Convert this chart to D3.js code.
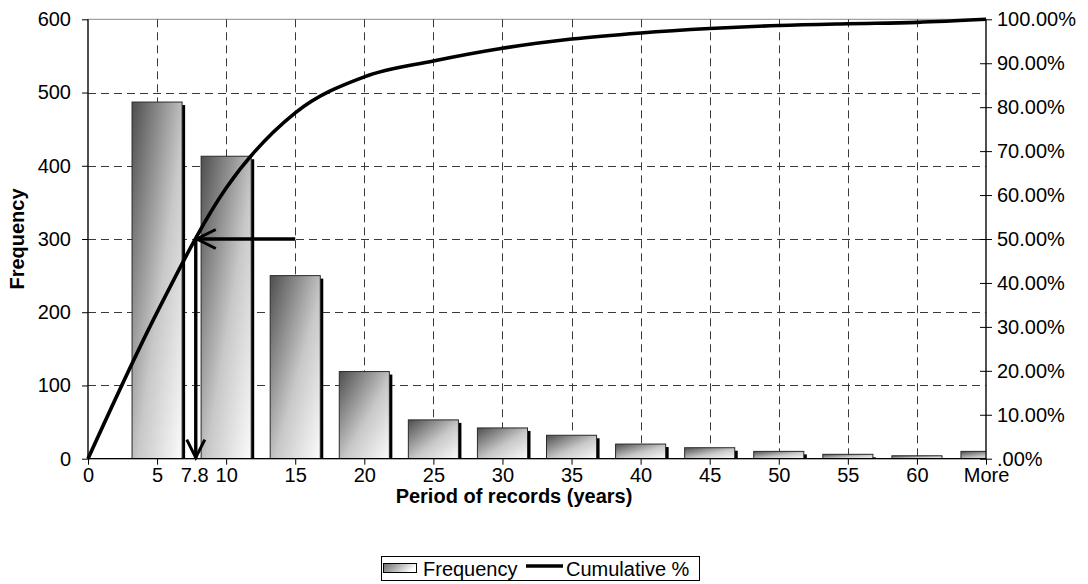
<!DOCTYPE html>
<html>
<head>
<meta charset="utf-8">
<script src="https://cdn.jsdelivr.net/npm/d3@7"></script>
<style>
  html, body { margin: 0; padding: 0; background: #fff; }
  svg { display: block; font-family: "Liberation Sans", Arial, sans-serif; }
</style>
</head>
<body>
<svg id="chart" width="1088" height="584"></svg>
<script>
// Histogram bins (upper edges) and the tick labels along the x axis
const tickLabels = ["0", "5", "10", "15", "20", "25", "30", "35", "40", "45", "50", "55", "60", "More"];
const binLabels = ["5", "10", "15", "20", "25", "30", "35", "40", "45", "50", "55", "60", "More"];
// Number of records in each bin
const frequency = [487, 413, 250, 119, 53, 42, 32, 20, 15, 10, 6, 4, 10];
// Cumulative percentage at each tick (starting from 0)
const cumulativePct = [0, 33.3, 61.6, 78.7, 86.9, 90.5, 93.4, 95.5, 96.9, 97.9, 98.6, 99.0, 99.3, 100];
// Axis ticks
const freqTicks = [0, 100, 200, 300, 400, 500, 600];
const pctTicks = [0, 10, 20, 30, 40, 50, 60, 70, 80, 90, 100];
// Median marker: 50% of records have a period of 7.8 years or less
const medianPct = 50;
const medianYears = 7.8;
const arrowFromYears = 15;

const svg = d3.select("#chart");
const W = 1088, H = 584;
const x0 = 88, x1 = 986, yTop = 19.3, yBot = 458.7;
const fontSize = 20;

const x = d3.scalePoint().domain(tickLabels).range([x0, x1]);
const xv = d3.scaleLinear().domain([0, 65]).range([x0, x1]);   // years on the same axis
const y = d3.scaleLinear().domain([0, 600]).range([yBot, yTop]);
const yPct = d3.scaleLinear().domain([0, 100]).range([yBot, yTop]);
const step = x.step();
const barW = step * 0.725;

const defs = svg.append("defs");
const grad = defs.append("linearGradient").attr("id", "barFill")
  .attr("x1", 0).attr("y1", 0).attr("x2", 1).attr("y2", 1);
grad.append("stop").attr("offset", "0%").attr("stop-color", "#4e4e4e");
grad.append("stop").attr("offset", "55%").attr("stop-color", "#c8c8c8");
grad.append("stop").attr("offset", "100%").attr("stop-color", "#fbfbfb");
defs.append("clipPath").attr("id", "plotClip")
  .append("rect").attr("x", x0).attr("y", yTop).attr("width", x1 - x0).attr("height", yBot - yTop);

svg.append("rect").attr("width", W).attr("height", H).attr("fill", "#fff");

// Plot area frame
svg.append("rect").attr("x", x0).attr("y", yTop).attr("width", x1 - x0).attr("height", yBot - yTop)
  .attr("fill", "none").attr("stroke", "#8c8c8c").attr("stroke-width", 1);

// Dashed grid
const grid = svg.append("g").attr("stroke", "#3a3a3a").attr("stroke-width", 1).attr("stroke-dasharray", "8,5");
grid.selectAll("line.h").data(freqTicks.filter(d => d > 0 && d < 600)).join("line")
  .attr("x1", x0).attr("x2", x1).attr("y1", d => Math.round(y(d)) + 0.5).attr("y2", d => Math.round(y(d)) + 0.5);
grid.selectAll("line.v").data(tickLabels.slice(1, -1)).join("line")
  .attr("y1", yTop).attr("y2", yBot).attr("x1", d => Math.round(x(d)) + 0.5).attr("x2", d => Math.round(x(d)) + 0.5);

// Bars with drop shadow
const bars = svg.append("g").attr("clip-path", "url(#plotClip)");
const barData = binLabels.map((b, i) => ({ bin: b, value: frequency[i] }));
bars.selectAll("rect.shadow").data(barData).join("rect").attr("class", "shadow")
  .attr("x", d => x(d.bin) - barW / 2 + 3).attr("y", d => y(d.value) + 3)
  .attr("width", barW).attr("height", d => yBot - y(d.value))
  .attr("fill", "#000");
bars.selectAll("rect.bar").data(barData).join("rect").attr("class", "bar")
  .attr("x", d => x(d.bin) - barW / 2).attr("y", d => y(d.value))
  .attr("width", barW).attr("height", d => yBot - y(d.value))
  .attr("fill", "url(#barFill)").attr("stroke", "#2a2a2a").attr("stroke-width", 1);

// Axes
const leftAxis = svg.append("g").attr("transform", `translate(${x0},0)`)
  .call(d3.axisLeft(y).tickValues(freqTicks).tickSize(6).tickPadding(11).tickFormat(d3.format("d")));
const rightAxis = svg.append("g").attr("transform", `translate(${x1},0)`)
  .call(d3.axisRight(yPct).tickValues(pctTicks).tickSize(6).tickPadding(5)
    .tickFormat(d => d === 0 ? ".00%" : d.toFixed(2) + "%"));
rightAxis.selectAll(".tick line").attr("x1", -6);
const bottomAxis = svg.append("g").attr("transform", `translate(0,${yBot})`)
  .call(d3.axisBottom(x).tickSize(6).tickPadding(3));
[leftAxis, rightAxis, bottomAxis].forEach(g => {
  g.selectAll(".domain").attr("stroke", "#000").attr("stroke-width", 1.2);
  g.selectAll(".tick line").attr("stroke", "#000");
  g.selectAll("text").attr("font-size", fontSize).attr("fill", "#000")
    .attr("font-family", "Liberation Sans, Arial, sans-serif");
});
leftAxis.select(".domain").attr("d", `M0,${yTop}V${yBot}`);
rightAxis.select(".domain").attr("d", `M0,${yTop}V${yBot}`);
bottomAxis.select(".domain").attr("d", `M${x0},0H${x1}`);

// Median value label on the x axis
svg.append("text").attr("x", xv(medianYears) - 1).attr("y", yBot + 9).attr("dy", "0.71em")
  .attr("text-anchor", "middle").attr("font-size", fontSize).text(String(medianYears));

// Cumulative % curve
const line = d3.line().x((d, i) => x(tickLabels[i])).y(d => yPct(d)).curve(d3.curveCardinal);
svg.append("path").datum(cumulativePct).attr("d", line)
  .attr("fill", "none").attr("stroke", "#000").attr("stroke-width", 3.6);

// Arrows marking the median
const ax = xv(medianYears), ay = yPct(medianPct), bx = xv(arrowFromYears);
const arrows = svg.append("g").attr("stroke", "#000").attr("fill", "none").attr("stroke-width", 3.4);
arrows.append("path").attr("d", `M${bx},${ay}H${ax + 1}`);
arrows.append("path").attr("d", `M${ax + 20},${ay - 9.5}L${ax + 1},${ay}L${ax + 20},${ay + 9.5}`).attr("stroke-width", 3);
arrows.append("path").attr("d", `M${ax},${ay}V${yBot - 1}`);
arrows.append("path").attr("d", `M${ax - 9},${yBot - 19}L${ax},${yBot - 1}L${ax + 9},${yBot - 19}`).attr("stroke-width", 3);

// Axis titles
svg.append("text").attr("x", 514).attr("y", 503).attr("text-anchor", "middle")
  .attr("font-size", fontSize).attr("font-weight", "bold").text("Period of records (years)");
svg.append("text").attr("transform", `translate(24,${(yTop + yBot) / 2}) rotate(-90)`)
  .attr("text-anchor", "middle").attr("font-size", fontSize).attr("font-weight", "bold").text("Frequency");

// Legend
const lg = svg.append("g").attr("transform", "translate(381,556)");
lg.append("rect").attr("x", 0.5).attr("y", 0.5).attr("width", 318).attr("height", 24)
  .attr("fill", "#fff").attr("stroke", "#000").attr("stroke-width", 1);
const lgGrad = defs.append("linearGradient").attr("id", "legendFill")
  .attr("x1", 0).attr("y1", 0).attr("x2", 1).attr("y2", 0.3);
lgGrad.append("stop").attr("offset", "0%").attr("stop-color", "#6a6a6a");
lgGrad.append("stop").attr("offset", "100%").attr("stop-color", "#ffffff");
lg.append("rect").attr("x", 2.5).attr("y", 7.5).attr("width", 33).attr("height", 9)
  .attr("fill", "url(#legendFill)").attr("stroke", "#000");
lg.append("text").attr("x", 42).attr("y", 20).attr("font-size", fontSize).text("Frequency");
lg.append("line").attr("x1", 145).attr("x2", 182).attr("y1", 10).attr("y2", 10)
  .attr("stroke", "#000").attr("stroke-width", 3.6);
lg.append("text").attr("x", 185).attr("y", 20).attr("font-size", fontSize).text("Cumulative %");
</script>
</body>
</html>
